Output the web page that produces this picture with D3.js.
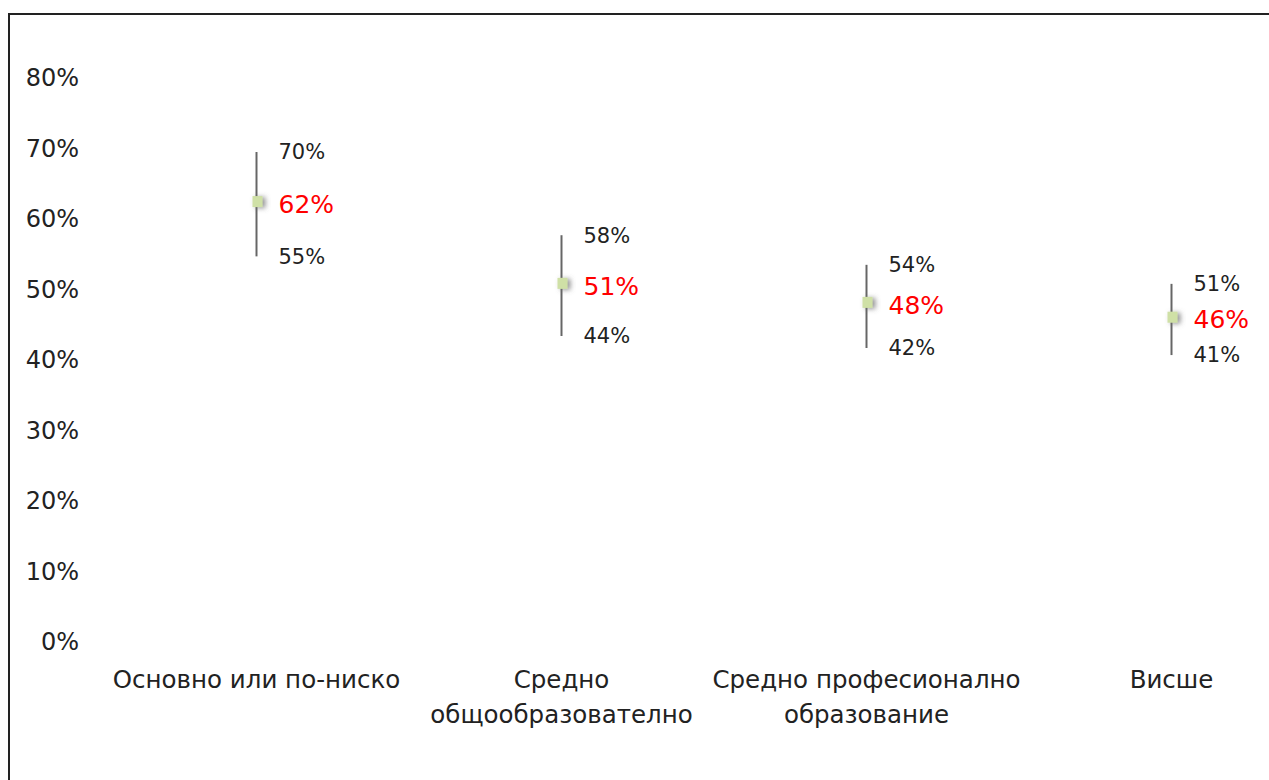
<!DOCTYPE html>
<html>
<head>
<meta charset="utf-8">
<script src="https://cdn.jsdelivr.net/npm/d3@7"></script>
<style>
  body { margin: 0; background: #fff; }
  svg { display: block; font-family: "DejaVu Sans", sans-serif; }
</style>
</head>
<body>
<div id="chart"></div>
<script>
// education levels
var categories = [
  ["Основно или по-ниско"],
  ["Средно", "общообразователно"],
  ["Средно професионално", "образование"],
  ["Висше"]
];
var estimate = [0.624, 0.508, 0.481, 0.460];
var upper = [0.695, 0.577, 0.535, 0.508];
var lower = [0.547, 0.434, 0.417, 0.407];
var upperLabels = ["70%", "58%", "54%", "51%"];
var estLabels = ["62%", "51%", "48%", "46%"];
var lowerLabels = ["55%", "44%", "42%", "41%"];
var yTicks = [0, 0.1, 0.2, 0.3, 0.4, 0.5, 0.6, 0.7, 0.8];

var width = 1269, height = 780;

var svg = d3.select("#chart").append("svg")
  .attr("width", width)
  .attr("height", height);

var defs = svg.append("defs");
var f = defs.append("filter").attr("id", "shadow")
  .attr("x", "-80%").attr("y", "-80%").attr("width", "260%").attr("height", "260%");
f.append("feDropShadow")
  .attr("dx", 3).attr("dy", 1).attr("stdDeviation", 2.5)
  .attr("flood-color", "#666").attr("flood-opacity", 0.7);

// frame
svg.append("path")
  .attr("d", "M9,800 L9,14 L1290,14")
  .attr("fill", "none")
  .attr("stroke", "#222")
  .attr("stroke-width", 2);

var idx = d3.range(categories.length);

var x = d3.scaleBand()
  .domain(idx)
  .range([104, 1324]);

var y = d3.scaleLinear()
  .domain([0, 0.8])
  .range([642, 78]);

var yAxis = d3.axisLeft(y)
  .tickValues(yTicks)
  .tickFormat(d3.format(".0%"))
  .tickSize(0).tickPadding(0);

var gy = svg.append("g")
  .attr("transform", "translate(79,0)")
  .call(yAxis);
gy.select(".domain").remove();
gy.selectAll("text")
  .attr("font-size", 24)
  .attr("fill", "#222")
  .attr("font-family", "DejaVu Sans, sans-serif");

var cx = function(i) { return x(i) + x.bandwidth() / 2; };

// category labels
var cat = svg.append("g").selectAll("text")
  .data(idx).enter()
  .append("text")
  .attr("text-anchor", "middle")
  .attr("font-size", 24.5)
  .attr("fill", "#222")
  .attr("x", function(i) { return cx(i); })
  .attr("y", 688);
cat.selectAll("tspan")
  .data(function(i) { return categories[i].map(function(s) { return { s: s, i: i }; }); })
  .enter().append("tspan")
  .attr("x", function(d) { return cx(d.i); })
  .attr("dy", function(d, k) { return k === 0 ? 0 : 35; })
  .text(function(d) { return d.s; });

var g = svg.append("g").selectAll("g")
  .data(idx).enter()
  .append("g");

g.append("line")
  .attr("x1", function(i) { return cx(i); })
  .attr("x2", function(i) { return cx(i); })
  .attr("y1", function(i) { return y(upper[i]); })
  .attr("y2", function(i) { return y(lower[i]); })
  .attr("stroke", "#666")
  .attr("stroke-width", 2);

g.append("rect")
  .attr("x", function(i) { return cx(i) - 4; })
  .attr("y", function(i) { return y(estimate[i]) - 6; })
  .attr("width", 10)
  .attr("height", 11)
  .attr("fill", "#cfe0a6")
  .attr("filter", "url(#shadow)");

g.append("text")
  .attr("x", function(i) { return cx(i) + 22; })
  .attr("y", function(i) { return y(upper[i]); })
  .attr("dy", "0.35em")
  .attr("font-size", 21)
  .attr("fill", "#222")
  .text(function(i) { return upperLabels[i]; });

g.append("text")
  .attr("x", function(i) { return cx(i) + 22; })
  .attr("y", function(i) { return y(estimate[i]) + 2; })
  .attr("dy", "0.35em")
  .attr("font-size", 25)
  .attr("fill", "#ff0000")
  .text(function(i) { return estLabels[i]; });

g.append("text")
  .attr("x", function(i) { return cx(i) + 22; })
  .attr("y", function(i) { return y(lower[i]); })
  .attr("dy", "0.35em")
  .attr("font-size", 21)
  .attr("fill", "#222")
  .text(function(i) { return lowerLabels[i]; });
</script>
</body>
</html>
